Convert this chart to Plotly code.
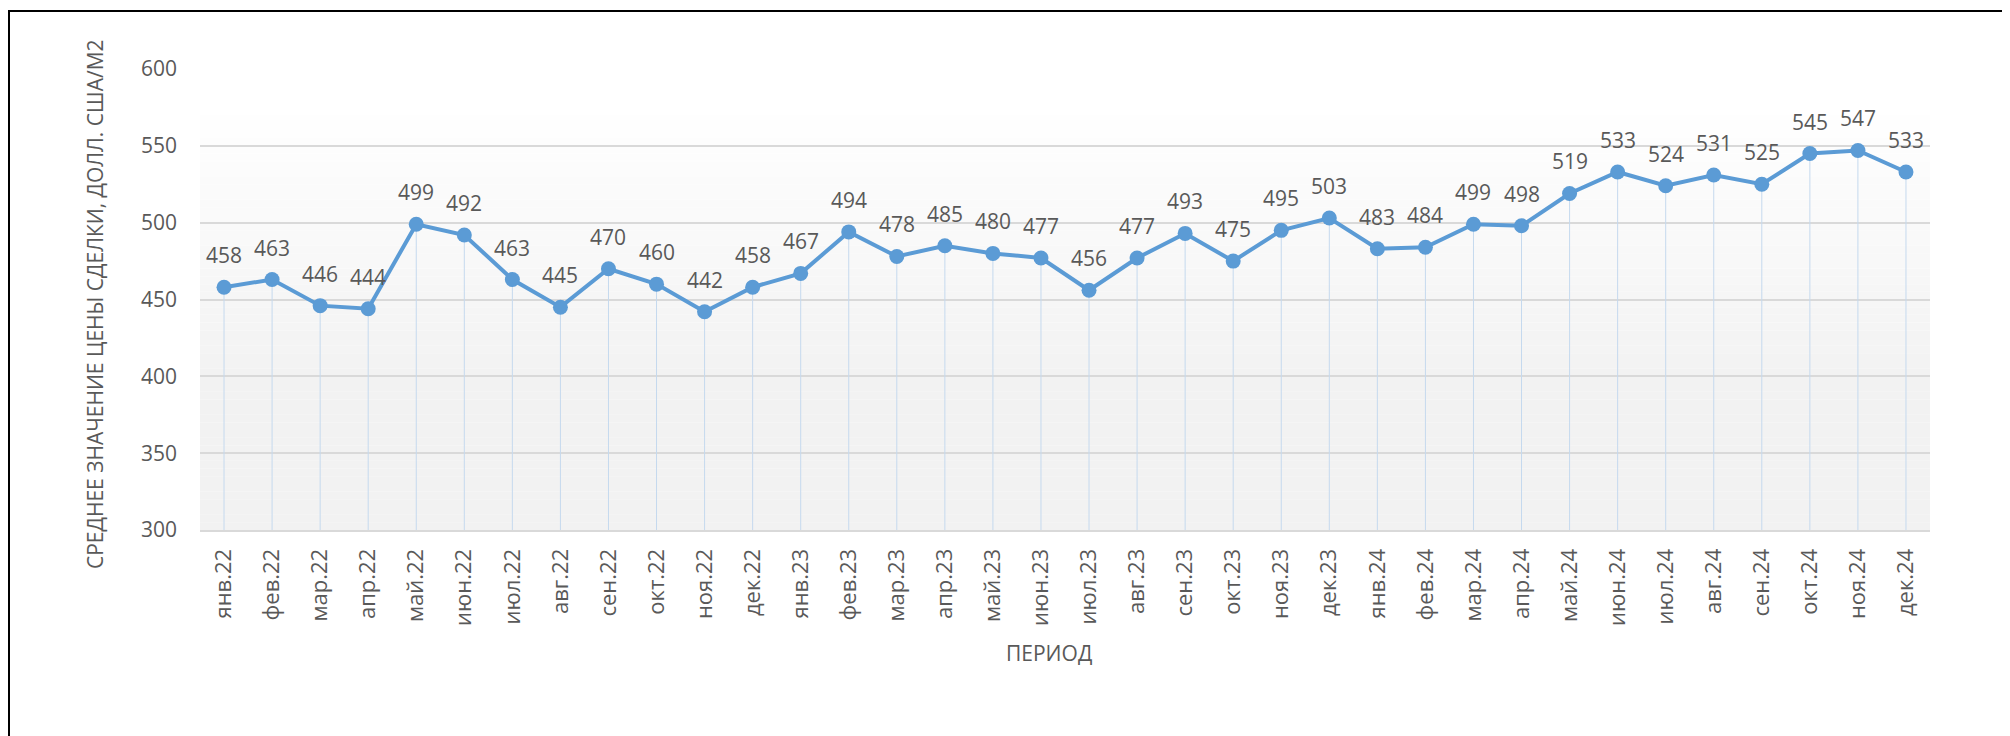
import plotly.graph_objects as go

categories = ["янв.22", "фев.22", "мар.22", "апр.22", "май.22", "июн.22", "июл.22", "авг.22",
              "сен.22", "окт.22", "ноя.22", "дек.22", "янв.23", "фев.23", "мар.23", "апр.23",
              "май.23", "июн.23", "июл.23", "авг.23", "сен.23", "окт.23", "ноя.23", "дек.23",
              "янв.24", "фев.24", "мар.24", "апр.24", "май.24", "июн.24", "июл.24", "авг.24",
              "сен.24", "окт.24", "ноя.24", "дек.24"]
values = [458, 463, 446, 444, 499, 492, 463, 445, 470, 460, 442, 458, 467, 494, 478, 485,
          480, 477, 456, 477, 493, 475, 495, 503, 483, 484, 499, 498, 519, 533, 524, 531,
          525, 545, 547, 533]
y_min, y_max = 300, 600
y_ticks = [300, 350, 400, 450, 500, 550, 600]
y_title = "СРЕДНЕЕ ЗНАЧЕНИЕ ЦЕНЫ СДЕЛКИ, ДОЛЛ. США/М2"
x_title = "ПЕРИОД"

# page body has an 8px margin, so the figure is offset by 8px
OFF = 8
W, H = 2010 - OFF, 736 - OFF
L, R, T, B = 200 - OFF, 80, 69 - OFF, 206
FONT = "Open Sans"
TXT = "#595959"
LINE = "#5b9bd5"

x_idx = list(range(len(categories)))

fig = go.Figure()
fig.add_trace(go.Scatter(
    x=x_idx, y=values, mode="lines+markers",
    line=dict(color=LINE, width=4),
    marker=dict(size=15, color=LINE),
    error_y=dict(type="data", symmetric=False,
                 array=[0] * len(values),
                 arrayminus=[v - y_min for v in values],
                 color="#c5d9ee", thickness=1, width=0),
    hoverinfo="x+y", showlegend=False,
))

# gradient plot background (style only)
shapes = []
n = 60
for i in range(n):
    y0 = i / n
    y1 = (i + 1) / n
    mid = (y0 + y1) / 2
    t = min(max((0.92 - mid) / 0.6, 0), 1)
    c = int(round(255 - (255 - 242) * t))
    shapes.append(dict(type="rect", xref="paper", yref="paper", x0=0, x1=1, y0=y0, y1=y1,
                       fillcolor=f"rgb({c},{c},{c})", line=dict(width=0), layer="below"))

pw = W - L - R
ph = H - T - B


def px_x(x):
    return (x - OFF - L) / pw


def px_y(y):
    return (H - B - (y - OFF)) / ph


shapes.append(dict(type="rect", xref="paper", yref="paper", x0=px_x(9), x1=1.2, y0=-0.6,
                   y1=px_y(11), line=dict(color="black", width=2),
                   fillcolor="rgba(0,0,0,0)", layer="above"))

annotations = []
for xi, v in zip(x_idx, values):
    annotations.append(dict(x=xi, y=v, xref="x", yref="y", text=str(v), showarrow=False,
                            yshift=32, font=dict(family=FONT, size=21, color=TXT)))
annotations.append(dict(x=px_x(95), y=px_y(304), xref="paper", yref="paper",
                        text=y_title, textangle=-90, showarrow=False,
                        xanchor="center", yanchor="middle",
                        font=dict(family=FONT, size=21, color=TXT)))
annotations.append(dict(x=px_x(1049), y=px_y(653), xref="paper", yref="paper",
                        text=x_title, showarrow=False, xanchor="center", yanchor="middle",
                        font=dict(family=FONT, size=21, color=TXT)))

fig.update_layout(
    width=W, height=H,
    margin=dict(l=L, r=R, t=T, b=B, autoexpand=False),
    paper_bgcolor="white", plot_bgcolor="rgba(0,0,0,0)",
    font=dict(family=FONT, size=21, color=TXT),
    shapes=shapes, annotations=annotations,
    xaxis=dict(range=[-0.5, len(categories) - 0.5], tickmode="array", tickvals=x_idx,
               ticktext=categories, tickangle=-90, showgrid=False, zeroline=False,
               showline=True, linecolor="#d9d9d9", linewidth=2, ticks="",
               ticklabelstandoff=8,
               tickfont=dict(family=FONT, size=22, color=TXT)),
    yaxis=dict(range=[y_min, y_max], tickmode="array", tickvals=y_ticks,
               showgrid=True, gridcolor="#d9d9d9", gridwidth=1.5, zeroline=False,
               showline=False, ticks="", ticklabelstandoff=22,
               tickfont=dict(family=FONT, size=21, color=TXT)),
)

fig.write_html("out.html")
